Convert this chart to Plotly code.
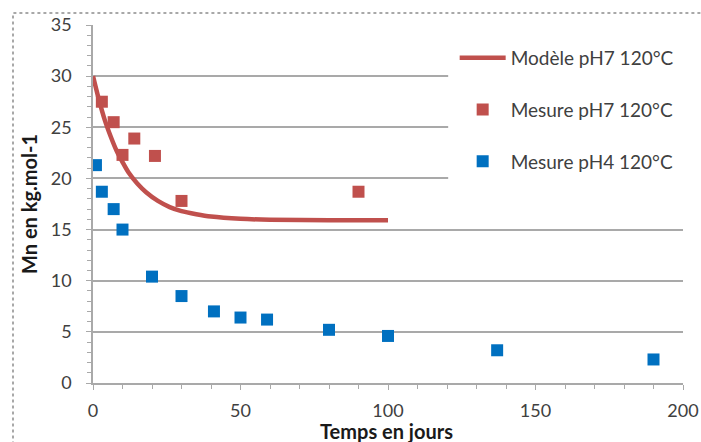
import plotly.graph_objects as go

# Model curve
model_t = [0, 2, 4, 6, 8, 10, 12, 15, 18, 22, 26, 30, 35, 40, 50, 60, 80, 100]
model_mn = [30.0, 27.7, 25.7, 24.1, 22.7, 21.6, 20.6, 19.5, 18.65, 17.8, 17.2, 16.8, 16.5, 16.27, 16.05, 15.96, 15.91, 15.9]

# Measurements pH7
ph7_t = [3, 7, 10, 14, 21, 30, 90]
ph7_mn = [27.5, 25.5, 22.3, 23.9, 22.2, 17.8, 18.7]

# Measurements pH4
ph4_t = [1, 3, 7, 10, 20, 30, 41, 50, 59, 80, 100, 137, 190]
ph4_mn = [21.3, 18.7, 17.0, 15.0, 10.4, 8.5, 7.0, 6.4, 6.2, 5.2, 4.6, 3.2, 2.3]

names = ["Modèle pH7 120°C", "Mesure pH7 120°C", "Mesure pH4 120°C"]
RED = "#C0504D"
BLUE = "#0070C0"
FONT = "Lato"
GRID = "#a9a9a9"

W, H = 701, 442
L, T, R, B = 93, 25, 18, 59
PW = W - L - R
PH = H - T - B

fig = go.Figure()
fig.add_trace(go.Scatter(x=model_t, y=model_mn, mode="lines", name=names[0],
                         line=dict(color=RED, width=4.5, shape="spline", smoothing=0.8),
                         legendgroup="a"))
fig.add_trace(go.Scatter(x=ph7_t, y=ph7_mn, mode="markers", name=names[1],
                         marker=dict(symbol="square", size=12, color=RED),
                         legendgroup="b"))
fig.add_trace(go.Scatter(x=ph4_t, y=ph4_mn, mode="markers", name=names[2],
                         marker=dict(symbol="square", size=12, color=BLUE),
                         legendgroup="c"))

# white background behind legend (hides gridlines there)
fig.add_shape(type="rect", xref="x", yref="y", x0=120.4, x1=200, y0=16.5, y1=34.3,
              fillcolor="white", line=dict(width=0), layer="above")
# outer chart frame (right and bottom edges lie outside the picture)
fig.add_shape(type="rect", xref="paper", yref="paper",
              x0=(13 - L) / PW, x1=(W + 20 - L) / PW,
              y0=-0.3, y1=(PH + T - 13) / PH,
              line=dict(color="#8c8c8c", width=1.5, dash="dot"),
              fillcolor="rgba(0,0,0,0)", layer="below")

fig.update_layout(
    width=W, height=H,
    margin=dict(l=L, r=R, t=T, b=B, autoexpand=False),
    paper_bgcolor="white", plot_bgcolor="white",
    font=dict(family=FONT, size=18, color="#404040"),
    showlegend=True,
    legend=dict(x=0.613, y=0.961, xanchor="left", yanchor="top",
                bgcolor="rgba(0,0,0,0)", font=dict(size=19, color="#404040"),
                traceorder="grouped", tracegroupgap=24, itemwidth=46),
    xaxis=dict(range=[0, 200], tickvals=[0, 50, 100, 150, 200],
               showgrid=False, zeroline=False,
               showline=True, linecolor=GRID, linewidth=1.5,
               ticks="outside", ticklen=5, tickcolor=GRID,
               ticklabelstandoff=6,
               minor=dict(dtick=10, ticks="outside", ticklen=4, tickcolor=GRID),
               title=dict(text="")),
    yaxis=dict(range=[0, 35], tickvals=[0, 5, 10, 15, 20, 25, 30, 35],
               showgrid=True, gridcolor=GRID, gridwidth=1.5,
               zeroline=False,
               showline=True, linecolor=GRID, linewidth=1.5,
               ticks="outside", ticklen=5, tickcolor=GRID,
               ticklabelstandoff=11,
               minor=dict(dtick=1, ticks="outside", ticklen=4, tickcolor=GRID),
               title=dict(text="<b>Mn en kg.mol-1</b>", font=dict(size=20, color="#1a1a1a"),
                          standoff=8)),
)
# x-axis title, placed just below the tick labels as in the reference
fig.add_annotation(text="<b>Temps en jours</b>", xref="paper", yref="paper",
                   x=(386 - L) / PW, y=-(442 - T - PH) / PH, xanchor="center", yanchor="bottom",
                   showarrow=False, font=dict(size=20, color="#1a1a1a", family=FONT),
                   yshift=-3)

fig.write_html("out.html", config={"displayModeBar": False},
               post_script="document.body.style.margin='0';document.body.style.overflow='hidden';")
